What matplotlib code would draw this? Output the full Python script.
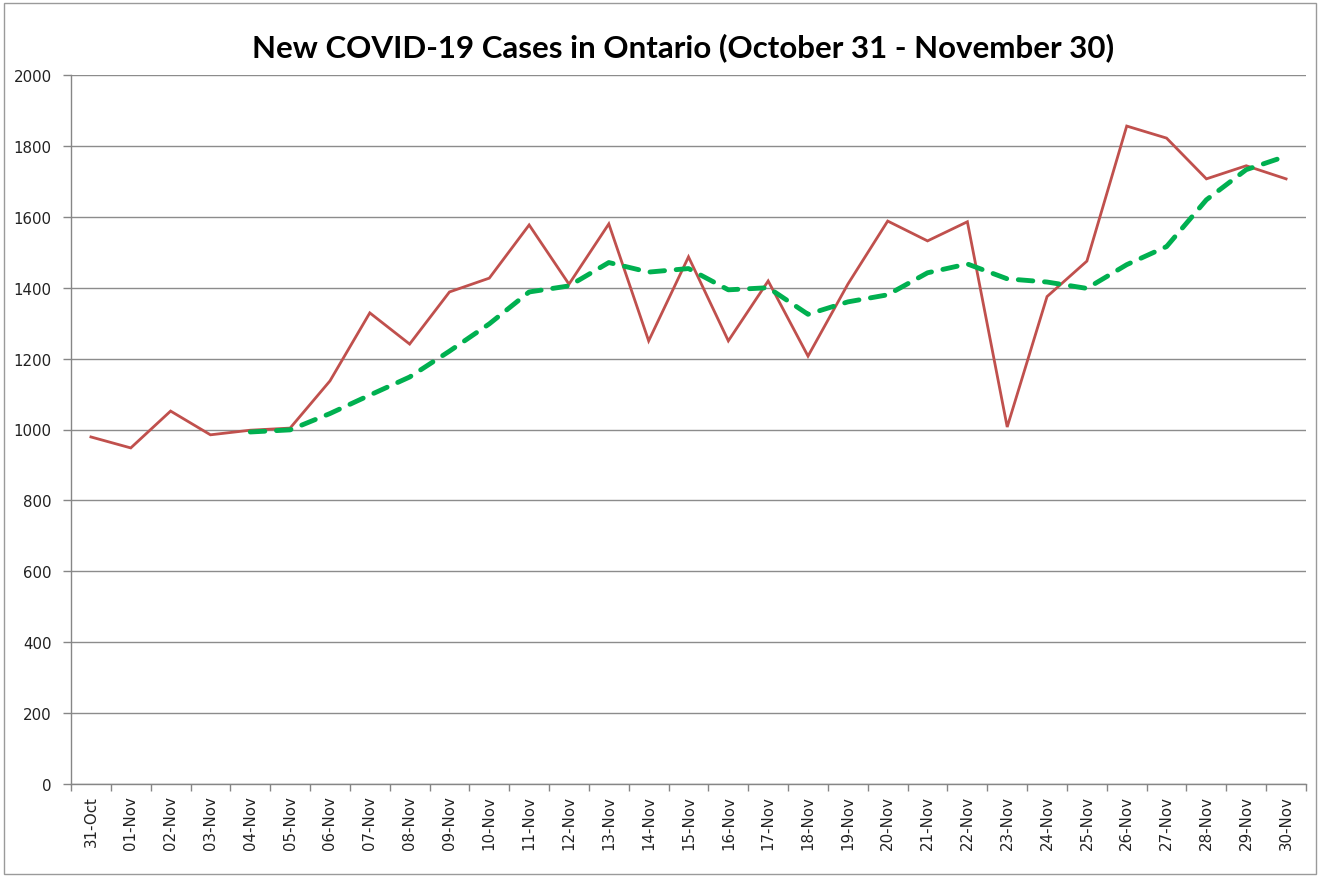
import matplotlib
matplotlib.use('Agg')
import matplotlib.pyplot as plt
from matplotlib.patches import Rectangle

# Data
dates = ['31-Oct', '01-Nov', '02-Nov', '03-Nov', '04-Nov', '05-Nov', '06-Nov', '07-Nov',
         '08-Nov', '09-Nov', '10-Nov', '11-Nov', '12-Nov', '13-Nov', '14-Nov', '15-Nov',
         '16-Nov', '17-Nov', '18-Nov', '19-Nov', '20-Nov', '21-Nov', '22-Nov', '23-Nov',
         '24-Nov', '25-Nov', '26-Nov', '27-Nov', '28-Nov', '29-Nov', '30-Nov']
new_cases = [979, 948, 1052, 985, 998, 1004, 1137, 1329, 1241, 1388, 1427, 1577, 1410,
             1580, 1250, 1487, 1250, 1419, 1207, 1410, 1588, 1532, 1586, 1007, 1375,
             1475, 1856, 1822, 1707, 1744, 1707]
# moving average starts on 04-Nov
avg_dates = dates[4:]
avg_cases = [993, 999, 1045, 1097, 1148, 1221, 1298, 1388, 1405, 1471, 1444, 1454,
             1394, 1400, 1325, 1360, 1380, 1442, 1467, 1425, 1416, 1398, 1465, 1516,
             1648, 1733, 1771]
yticks = list(range(0, 2001, 200))

fig = plt.figure(figsize=(13.2, 8.79), dpi=100)
ax = fig.add_axes([71 / 1320, 1 - 785 / 879, 1235 / 1320, 709 / 879])

x = list(range(len(dates)))
x_avg = x[4:]
ax.plot(x, new_cases, color='#C0504D', lw=2.0, solid_joinstyle='miter', zorder=3)
ax.plot(x_avg, avg_cases, color='#00B050', lw=3.5, linestyle=(0, (3.0, 2.4)),
        dash_capstyle='round', zorder=4)

ax.set_xlim(-0.5, len(dates) - 0.5)
ax.set_ylim(0, 2000)
ax.set_yticks(yticks)
ax.set_yticklabels([str(v) for v in yticks])
ax.set_xticks(x)
ax.set_xticklabels(dates, rotation=90)
# tick marks sit between categories
ax.set_xticks([i - 0.5 for i in range(len(dates) + 1)], minor=True)
ax.tick_params(axis='x', which='major', length=0, pad=8, labelsize=10.8, colors='#222222')
ax.tick_params(axis='x', which='minor', length=5, color='#868686', width=1)
ax.tick_params(axis='y', length=6, color='#868686', width=1, pad=8,
               labelsize=10.8, labelcolor='#222222')

ax.grid(axis='y', color='#8c8c8c', lw=1)
ax.set_axisbelow(True)
for side in ['top', 'right']:
    ax.spines[side].set_visible(False)
for side in ['left', 'bottom']:
    ax.spines[side].set_color('#868686')
    ax.spines[side].set_linewidth(1)

fig.text(683 / 1320, 1 - 48 / 879, 'New COVID-19 Cases in Ontario (October 31 - November 30)',
         ha='center', va='center', fontsize=22.5, fontweight='bold', family='Lato')

# outer chart border
fig.patches.append(Rectangle((4 / 1320, 4 / 879), 1312 / 1320, 871 / 879,
                             transform=fig.transFigure, fill=False,
                             edgecolor='#9a9a9a', lw=1))

fig.savefig('out.png', dpi=100)
